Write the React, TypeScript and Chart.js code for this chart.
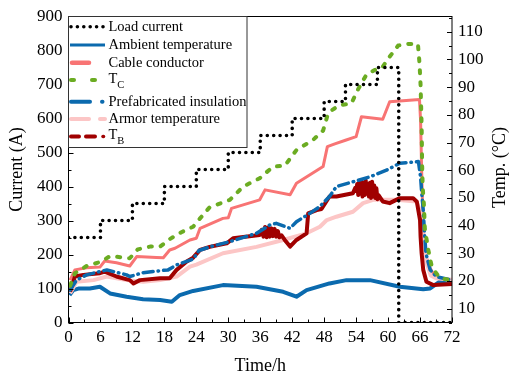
import { useEffect, useRef } from "react";
import { Chart, registerables } from "chart.js";

Chart.register(...registerables);

// Load current (A): stepped profile, value holds until the next time
const loadTime = [0, 6, 12, 18, 24, 30, 36, 42, 48, 52, 58, 62, 72];
const loadCurrent = [250, 300, 350, 400, 450, 500, 550, 600, 650, 700, 750, 0, 0];

// Ambient temperature (°C)
const ambientTime = [0.2, 0.9, 2, 4, 5.9, 7.8, 10.9, 14, 17.2, 19.4, 20.9, 23.4, 29, 35.3, 40.3, 42.8, 44.7, 49, 52.2, 56.6, 62.2, 66.6, 67.9, 69.7, 72];
const ambientTemp = [14.9, 16.7, 17.3, 17.3, 17.9, 15.5, 14.3, 13.4, 13.1, 12.5, 14.9, 16.4, 18.5, 17.9, 16.1, 14.3, 16.7, 19.1, 20.3, 20.3, 17.9, 17.0, 17.3, 19.8, 20.2];

// Cable conductor temperature (°C)
const conductorTime = [0.3, 1.2, 3.4, 5.9, 6.8, 9, 11.5, 12.8, 16.5, 17.8, 19, 20, 22.8, 24.0, 24.7, 29, 30.0, 30.6, 35.9, 36.9, 41.6, 42.8, 47.8, 48.6, 50, 52, 54, 55, 59, 60.3, 65.9, 66.1, 66.3, 66.5, 66.7, 67.1, 67.8, 68.8, 72];
const conductorTemp = [20.3, 24.0, 24.8, 25.0, 27.2, 26.6, 25.4, 28.8, 28.5, 28.4, 31.2, 31.8, 34.8, 35.4, 39.0, 42.6, 42.8, 46.2, 49.3, 52.9, 51.1, 55.3, 61.3, 68.5, 69.5, 70.8, 72.1, 79.3, 78.4, 84.7, 85.5, 78, 60, 45, 37, 29, 25, 21.5, 20.0];

// T_C (°C)
const tcTime = [0.3, 1.2, 3.4, 6.2, 7.8, 11.5, 13, 15.3, 17.2, 19, 21.2, 23.4, 24.7, 26.5, 30.3, 32.8, 35.9, 38.4, 40.6, 42.8, 45.9, 47.8, 48.7, 49, 50.9, 53.1, 54.4, 55.9, 57.5, 58.8, 60.3, 61.9, 63.8, 65.6, 65.9, 66.1, 66.3, 66.4, 66.5, 66.75, 66.9, 67.55, 68.2, 69.7, 72];
const tcTemp = [18.3, 22.8, 25.4, 27.0, 29.0, 28.2, 31.4, 32.4, 32.4, 35.1, 37.6, 39.6, 42.6, 46.6, 49.3, 54.1, 57.1, 61.3, 61.6, 67.3, 70.9, 74.3, 80.3, 81.1, 83.5, 84.1, 89.3, 94.4, 96.2, 96.8, 101, 105, 105.6, 105.6, 98.6, 90.8, 76, 61.3, 54, 46.8, 39, 31.2, 25.2, 21.0, 20.2];

// Prefabricated insulation temperature (°C)
const prefabTime = [0.3, 1.5, 3.4, 5.9, 7.2, 10.9, 11.5, 14, 17.2, 18.7, 20.3, 23.4, 24.5, 26.5, 30.3, 35.3, 37.8, 39, 41.6, 42.8, 45.3, 47.2, 49, 50.3, 53.4, 56.6, 59.7, 62.2, 65.7, 66.1, 66.3, 66.6, 66.8, 67.1, 67.9, 69.1, 72];
const prefabTemp = [16.7, 20.3, 22.2, 23.4, 24.0, 22.2, 21.6, 23.0, 23.7, 24.0, 25.8, 27.9, 31.0, 32.3, 34.2, 37.2, 40.2, 40.8, 39.0, 41.4, 44.4, 46.9, 50.5, 54.1, 55.8, 57.6, 60.0, 62.5, 63.1, 57.6, 52.2, 45.6, 38.4, 30.0, 24.0, 21.5, 20.3];

// Armor temperature (°C)
const armorTime = [0.3, 1.5, 4.7, 7.2, 10.9, 14, 17.2, 20.3, 22.8, 24, 29, 35.3, 40.3, 44.7, 47.2, 48.5, 50.3, 53.4, 55.3, 57.2, 61.6, 65.3, 66.0, 66.6, 67.2, 68, 69, 72];
const armorTemp = [15.6, 19.7, 20.3, 21.6, 20.3, 19.7, 20.3, 21.6, 25.2, 25.9, 30.0, 32.3, 34.8, 37.2, 39.6, 42.0, 43.2, 45.0, 48.1, 49.3, 49.3, 48.7, 45.5, 35.5, 26.5, 22.0, 21.0, 20.4];

// T_B (°C), including the fluctuating stretches around 36–40 h and 54–58 h
const tbTime = [0.3, 1.2, 2.8, 5.9, 6.8, 9, 11.5, 12.2, 13.4, 17.2, 19, 20.3, 22.2, 23.4, 24.7, 26.5, 29.7, 30.9, 35.9,
  36.3, 36.6, 36.9, 37.2, 37.5, 37.8, 38.1, 38.4, 38.7, 39.0, 39.3, 39.6, 40.0,
  40.6, 41.6, 42.8, 44.7, 45, 46.6, 47.5, 49, 50.3, 53.4, 53.8,
  54.0, 54.2, 54.4, 54.6, 54.8, 55.0, 55.2, 55.4, 55.6, 55.8, 56.0, 56.2, 56.4, 56.6, 56.8, 57.0, 57.2, 57.4, 57.6, 57.8, 58.0, 58.2,
  59, 60.3, 62.2, 64.7, 65.4, 66.0, 66.1, 66.3, 66.6, 67.2, 68.5, 72];
const tbTemp = [16.1, 21.6, 22.2, 22.8, 23.4, 21.6, 20.3, 19.1, 20.3, 21.0, 21.0, 24.0, 27.0, 28.4, 31.2, 32.3, 33.6, 35.4, 36.6,
  38.5, 36.0, 39.5, 35.8, 39.3, 36.0, 39.0, 36.2, 38.8, 36.0, 38.0, 35.8, 36.5,
  34.8, 32.4, 34.8, 37.2, 44.4, 45.6, 46.0, 50.5, 50.5, 51.7, 53.5,
  52.5, 55.0, 51.0, 55.8, 51.5, 56.0, 50.5, 55.5, 51.0, 56.3, 51.5, 55.0, 50.5, 55.5, 50.0, 55.8, 50.5, 54.5, 50.0, 53.5, 49.5, 51.0,
  48.7, 48.1, 49.9, 49.9, 48.6, 42.0, 36.0, 30.0, 24.0, 19.7, 18.5, 18.9];

// Axis ticks
const timeTicks = [0, 6, 12, 18, 24, 30, 36, 42, 48, 54, 60, 66, 72];
const currentTicks = [0, 100, 200, 300, 400, 500, 600, 700, 800, 900];
const tempTicks = [10, 20, 30, 40, 50, 60, 70, 80, 90, 100, 110];

const SERIF = '"Liberation Serif", "Times New Roman", serif';
const BLUE = "#0b6aae";
const SALMON = "#f87474";
const GREEN = "#6bac22";
const PINK = "#fcc6c6";
const DARKRED = "#a00000";

const pts = (xs: number[], ys: number[]) => xs.map((x, i) => ({ x, y: ys[i] }));

function seg(
  ctx: CanvasRenderingContext2D,
  x1: number,
  x2: number,
  y: number,
  color: string,
  width: number,
  dash: number[] = [],
  cap: CanvasLineCap = "butt"
) {
  ctx.save();
  ctx.beginPath();
  ctx.strokeStyle = color;
  ctx.lineWidth = width;
  ctx.lineCap = cap;
  ctx.setLineDash(dash);
  ctx.moveTo(x1, y);
  ctx.lineTo(x2, y);
  ctx.stroke();
  ctx.restore();
}

const decorPlugin = {
  id: "decor",
  afterDraw(chart: any) {
    const ctx: CanvasRenderingContext2D = chart.ctx;
    const { left, right, top, bottom } = chart.chartArea;
    const sx = chart.scales.x;
    const sl = chart.scales.yCurrent;
    const sr = chart.scales.yTemp;

    ctx.save();
    // frame
    ctx.strokeStyle = "#000";
    ctx.lineWidth = 1;
    ctx.setLineDash([]);
    ctx.strokeRect(left, top, right - left, bottom - top);

    // inward tick marks
    ctx.beginPath();
    for (let v = 0; v <= 72; v += 3) {
      const p = Math.round(sx.getPixelForValue(v)) + 0.5;
      const len = v % 6 === 0 ? 5 : 3;
      ctx.moveTo(p, bottom);
      ctx.lineTo(p, bottom - len);
    }
    for (let v = 0; v <= 900; v += 50) {
      const p = Math.round(sl.getPixelForValue(v)) + 0.5;
      const len = v % 100 === 0 ? 5 : 3;
      ctx.moveTo(left, p);
      ctx.lineTo(left + len, p);
    }
    for (let v = 5; v <= 115; v += 5) {
      const p = Math.round(sr.getPixelForValue(v)) + 0.5;
      const len = v % 10 === 0 ? 5 : 3;
      ctx.moveTo(right, p);
      ctx.lineTo(right - len, p);
    }
    ctx.stroke();

    // axis titles
    ctx.fillStyle = "#000";
    ctx.font = `18px ${SERIF}`;
    ctx.textAlign = "center";
    ctx.textBaseline = "middle";
    ctx.fillText("Time/h", (left + right) / 2, 366);
    ctx.save();
    ctx.translate(17, (top + bottom) / 2);
    ctx.rotate(-Math.PI / 2);
    ctx.fillText("Current (A)", 0, 0);
    ctx.restore();
    ctx.save();
    ctx.translate(500, (top + bottom) / 2 - 2);
    ctx.rotate(-Math.PI / 2);
    ctx.fillText("Temp. (\u00B0C)", 0, 0);
    ctx.restore();

    // legend box
    const bx = left, by = top, bw = 247 - left, bh = 147.5 - top;
    ctx.fillStyle = "#fff";
    ctx.fillRect(bx, by, bw, bh);
    ctx.strokeStyle = "#333";
    ctx.lineWidth = 1;
    ctx.strokeRect(bx, by, bw, bh);

    const rows = [26.7, 45, 62.7, 80, 101.7, 119, 136.5];
    const tx = 108.5;
    // samples
    seg(ctx, 71, 104, rows[0], "#000", 3.6, [0, 6.4], "round");
    seg(ctx, 70, 105, rows[1], BLUE, 3);
    seg(ctx, 72, 89, rows[2], SALMON, 4.5, [], "round");
    seg(ctx, 71, 74, rows[3], GREEN, 4, [], "round");
    seg(ctx, 92, 95, rows[3], GREEN, 4, [], "round");
    seg(ctx, 71, 90, rows[4], BLUE, 4, [], "round");
    seg(ctx, 102, 102.5, rows[4], BLUE, 4, [], "round");
    seg(ctx, 71, 89, rows[5], PINK, 4, [], "round");
    seg(ctx, 100, 105, rows[5], PINK, 4, [], "round");
    seg(ctx, 71, 79, rows[6], DARKRED, 4, [], "round");
    seg(ctx, 86, 95, rows[6], DARKRED, 4, [], "round");
    seg(ctx, 103, 103.5, rows[6], DARKRED, 3.5, [], "round");

    ctx.fillStyle = "#000";
    ctx.textAlign = "left";
    ctx.textBaseline = "middle";
    ctx.font = `14.5px ${SERIF}`;
    ctx.fillText("Load current", tx, rows[0] + 0.5);
    ctx.fillText("Ambient temperature", tx, rows[1] + 0.5);
    ctx.fillText("Cable conductor", tx, rows[2] + 0.5);
    ctx.fillText("Prefabricated insulation", tx, rows[4] + 0.5);
    ctx.fillText("Armor temperature", tx, rows[5] + 0.5);
    const sub = (main: string, s: string, y: number) => {
      ctx.font = `14.5px ${SERIF}`;
      ctx.fillText(main, tx, y);
      const w = ctx.measureText(main).width;
      ctx.font = `10.5px ${SERIF}`;
      ctx.fillText(s, tx + w, y + 6);
    };
    sub("T", "C", rows[3] - 0.5);
    sub("T", "B", rows[6] - 1);
    ctx.restore();
  },
};

export default function App() {
  const ref = useRef<HTMLCanvasElement>(null);

  useEffect(() => {
    const canvas = ref.current;
    if (!canvas) return;
    const tickFont = { family: SERIF, size: 17 };
    const chart = new Chart(canvas, {
      type: "line",
      data: {
        datasets: [
          {
            label: "Load current",
            data: pts(loadTime, loadCurrent),
            yAxisID: "yCurrent",
            borderColor: "#000",
            borderWidth: 3.6,
            borderDash: [0, 6.4],
            borderCapStyle: "round",
            stepped: "before",
            order: 0,
          },
          {
            label: "Ambient temperature",
            data: pts(ambientTime, ambientTemp),
            yAxisID: "yTemp",
            borderColor: BLUE,
            borderWidth: 4,
            order: 6,
          },
          {
            label: "Cable conductor",
            data: pts(conductorTime, conductorTemp),
            yAxisID: "yTemp",
            borderColor: SALMON,
            borderWidth: 3,
            order: 5,
          },
          {
            label: "T_C",
            data: pts(tcTime, tcTemp),
            yAxisID: "yTemp",
            borderColor: GREEN,
            borderWidth: 4,
            borderDash: [3, 9],
            borderCapStyle: "round",
            order: 1,
          },
          {
            label: "Prefabricated insulation",
            data: pts(prefabTime, prefabTemp),
            yAxisID: "yTemp",
            borderColor: BLUE,
            borderWidth: 3.5,
            borderDash: [10, 5, 0.5, 5],
            borderCapStyle: "round",
            order: 2,
          },
          {
            label: "Armor temperature",
            data: pts(armorTime, armorTemp),
            yAxisID: "yTemp",
            borderColor: PINK,
            borderWidth: 4,
            order: 4,
          },
          {
            label: "T_B",
            data: pts(tbTime, tbTemp),
            yAxisID: "yTemp",
            borderColor: DARKRED,
            borderWidth: 4,
            order: 3,
          },
        ],
      },
      options: {
        responsive: false,
        maintainAspectRatio: false,
        animation: false,
        devicePixelRatio: 1,
        layout: { padding: { top: 16.5, left: 0, right: 0, bottom: 0 } },
        elements: { point: { radius: 0 }, line: { tension: 0, borderJoinStyle: "round" } },
        plugins: { legend: { display: false }, tooltip: { enabled: false } },
        scales: {
          x: {
            type: "linear",
            min: 0,
            max: 72,
            grid: { display: false, drawTicks: false },
            border: { display: false },
            afterBuildTicks: (s: any) => {
              s.ticks = timeTicks.map((value) => ({ value }));
            },
            ticks: { font: tickFont, color: "#000", padding: 5, maxRotation: 0, autoSkip: false },
            afterFit: (s: any) => {
              s.height = 58.5;
            },
          },
          yCurrent: {
            type: "linear",
            position: "left",
            min: 0,
            max: 900,
            grid: { display: false, drawTicks: false },
            border: { display: false },
            afterBuildTicks: (s: any) => {
              s.ticks = currentTicks.map((value) => ({ value }));
            },
            ticks: { font: tickFont, color: "#000", padding: 6, autoSkip: false },
            afterFit: (s: any) => {
              s.width = 68.5;
            },
          },
          yTemp: {
            type: "linear",
            position: "right",
            min: 5,
            max: 115.5,
            grid: { display: false, drawTicks: false },
            border: { display: false },
            afterBuildTicks: (s: any) => {
              s.ticks = tempTicks.map((value) => ({ value }));
            },
            ticks: { font: tickFont, color: "#000", padding: 6, autoSkip: false },
            afterFit: (s: any) => {
              s.width = 58;
            },
          },
        },
      } as any,
      plugins: [decorPlugin],
    });
    return () => chart.destroy();
  }, []);

  return (
    <div style={{ position: "fixed", left: 0, top: 0, width: 510, height: 381, background: "#fff" }}>
      <canvas ref={ref} width={510} height={381} style={{ display: "block" }} />
    </div>
  );
}
